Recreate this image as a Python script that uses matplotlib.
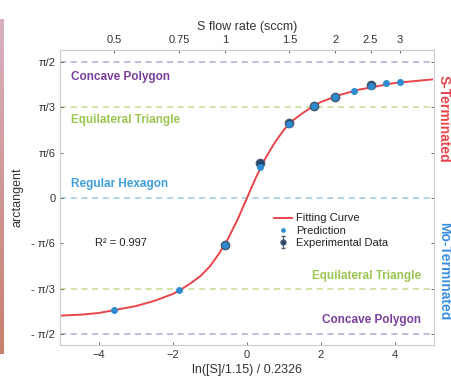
import numpy as np
import matplotlib
matplotlib.use("Agg")
import matplotlib.pyplot as plt
from matplotlib.colors import LinearSegmentedColormap

plt.rcParams["font.family"] = ["Liberation Sans", "DejaVu Sans"]

# fitting curve
curve_x = [-5, -4.5, -4, -3.5, -3, -2.5, -2, -1.75, -1.5, -1.25, -1, -0.75,
           -0.5, -0.25, 0, 0.25, 0.5, 0.75, 1, 1.25, 1.5, 1.75, 2, 2.5, 3,
           3.5, 4, 4.5, 5]
curve_y = [-1.36, -1.35, -1.33, -1.29, -1.25, -1.19, -1.11, -1.05, -0.98,
           -0.90, -0.79, -0.64, -0.46, -0.245, 0.0, 0.245, 0.46, 0.64, 0.79,
           0.90, 0.98, 1.05, 1.11, 1.19, 1.25, 1.29, 1.33, 1.35, 1.37]

# prediction points (by S flow rate, sccm)
pred_s = [0.5, 0.75, 1, 1.25, 1.5, 1.75, 2, 2.25, 2.5, 2.75, 3]
pred_y = [-1.29, -1.07, -0.54, 0.36, 0.85, 1.06, 1.17, 1.24, 1.30, 1.33, 1.34]

# experimental points
exp_s = [1, 1.25, 1.5, 1.75, 2, 2.5]
exp_y = [-0.54, 0.40, 0.87, 1.06, 1.17, 1.31]
exp_err = [0.03, 0.04, 0.03, 0.02, 0.02, 0.03]

top_ticks = [0.5, 0.75, 1, 1.5, 2, 2.5, 3]
top_labels = ["0.5", "0.75", "1", "1.5", "2", "2.5", "3"]
y_ticks = [-np.pi/2, -np.pi/3, -np.pi/6, 0, np.pi/6, np.pi/3, np.pi/2]
y_labels = ["- π/2", "- π/3", "- π/6", "0", "π/6", "π/3", "π/2"]


def s_to_x(s):
    s = np.clip(np.asarray(s, dtype=float), 1e-9, None)
    return np.log(s / 1.15) / 0.2326


def x_to_s(x):
    return 1.15 * np.exp(np.asarray(x, dtype=float) * 0.2326)


def main():
    fig = plt.figure(figsize=(4.52, 3.85), dpi=100)
    ax = fig.add_axes([0.133, 0.104, 0.827, 0.766])

    purple = "#7a3f9e"
    green = "#9cc653"
    blue = "#3f9fdf"
    red = "#e8454b"
    txt = "#333333"

    for yv, c in [(np.pi/2, "#b9a6d4"), (-np.pi/2, "#b9a6d4"),
                  (np.pi/3, "#c3dc8f"), (-np.pi/3, "#c3dc8f"),
                  (0, "#9cc9e3")]:
        ax.axhline(yv, color=c, ls=(0, (4, 3)), lw=1.1, zorder=1)

    ax.plot(curve_x, curve_y, color=red, lw=1.4, zorder=2,
            label="Fitting Curve")
    ax.errorbar(s_to_x(exp_s), exp_y, yerr=exp_err, fmt="o", ms=6,
                color="#2a3f5f", mfc="#23466e", mec="#4a5a70", ecolor="#4a5a70",
                elinewidth=0.8, capsize=1.5, zorder=3, label="Experimental Data")
    ax.plot(s_to_x(pred_s), pred_y, "o", ms=4, color="#2f8bd0", ls="none",
            zorder=4, label="Prediction")

    ax.set_xlim(-5.05, 5.05)
    ax.set_ylim(-1.70, 1.71)
    ax.set_xticks([-4, -2, 0, 2, 4])
    ax.set_yticks(y_ticks)
    ax.set_yticklabels(y_labels)
    ax.tick_params(labelsize=8, colors=txt, length=2, width=0.5,
                   direction="in", top=False, right=True)
    for sp in ax.spines.values():
        sp.set_color("#cccccc")
        sp.set_linewidth(0.8)

    ax.set_xlabel("ln([S]/1.15) / 0.2326", fontsize=9, color=txt,
                  labelpad=3)
    ax.set_ylabel("arctangent", fontsize=9, color=txt, labelpad=6)

    top = ax.secondary_xaxis("top", functions=(x_to_s, s_to_x))
    top.set_xticks(top_ticks)
    top.set_xticklabels(top_labels)
    top.tick_params(labelsize=8, colors=txt, length=2, width=0.5,
                    direction="in")
    top.spines["top"].set_color("#cccccc")
    top.set_xlabel("S flow rate (sccm)", fontsize=9, color=txt,
                   labelpad=4)

    kw = dict(fontsize=8.5, fontweight="bold", va="center")
    ax.text(-4.75, 1.40, "Concave Polygon", color=purple, ha="left", **kw)
    ax.text(-4.75, 0.90, "Equilateral Triangle", color=green, ha="left", **kw)
    ax.text(-4.75, 0.16, "Regular Hexagon", color=blue, ha="left", **kw)
    ax.text(4.7, -0.90, "Equilateral Triangle", color=green, ha="right", **kw)
    ax.text(4.7, -1.41, "Concave Polygon", color=purple, ha="right", **kw)
    ax.text(-4.1, -0.52, "R² = 0.997", fontsize=8, color="#222222",
            ha="left", va="center")

    handles, labels = ax.get_legend_handles_labels()
    order = [labels.index(n) for n in ["Fitting Curve", "Prediction",
                                         "Experimental Data"]]
    leg = ax.legend([handles[i] for i in order], [labels[i] for i in order],
                    loc="upper left", bbox_to_anchor=(0.545, 0.48),
                    frameon=False, fontsize=8, handlelength=1.6,
                    handletextpad=0.4, labelspacing=0.2, markerscale=0.6)
    for t in leg.get_texts():
        t.set_color("#222222")

    fig.text(0.982, 0.69, "S-Terminated", color=red, rotation=-90,
             fontsize=10, fontweight="bold", ha="center", va="center")
    fig.text(0.982, 0.295, "Mo-Terminated", color="#3b8fdf", rotation=-90,
             fontsize=10, fontweight="bold", ha="center", va="center")

    # pinkish strip on the left edge of the crop
    sax = fig.add_axes([0.0, 0.08, 0.008, 0.87])
    cmap = LinearSegmentedColormap.from_list("strip", ["#d8b0c0", "#c8806e"])
    sax.imshow(np.linspace(0, 1, 50)[:, None], aspect="auto", cmap=cmap)
    sax.axis("off")

    fig.savefig("out.png", dpi=100)


if __name__ == "__main__":

    main()
